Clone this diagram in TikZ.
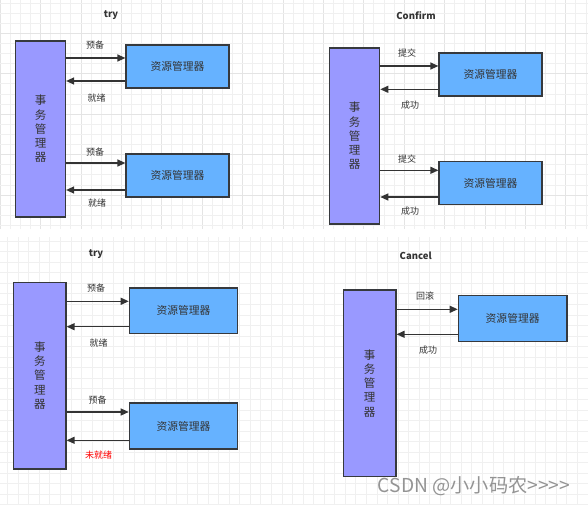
\documentclass[tikz,border=0pt]{standalone}
\usepackage{fontspec}
\setmainfont{Noto Sans CJK SC}
\newfontfamily\cjk{Noto Sans CJK SC}
\usetikzlibrary{arrows.meta}
\definecolor{tmfill}{HTML}{9999FF}
\definecolor{rmfill}{HTML}{66B2FF}
\definecolor{edge}{HTML}{36393D}
\definecolor{txt}{HTML}{333333}
\definecolor{gridminor}{HTML}{F0F0F0}
\definecolor{gridmajor}{HTML}{E4E4E4}
\tikzset{
  tm/.style={draw=edge, line width=1.2pt, fill=tmfill, inner sep=0pt, align=center,
    font=\cjk\fontsize{11.5}{14.2}\selectfont, text=txt},
  rm/.style={draw=edge, line width=1.2pt, fill=rmfill, inner sep=0pt,
    minimum width=103, minimum height=43, font=\cjk\fontsize{10.8}{12}\selectfont, text=txt},
  arr/.style={draw=txt, line width=1.3pt, -{Triangle[length=8pt,width=7pt]}},
  lbl/.style={font=\cjk\fontsize{9}{10}\selectfont, text=txt, inner sep=0pt},
  ttl/.style={font=\cjk\bfseries\fontsize{9.5}{11}\selectfont, text=txt, inner sep=0pt},
}
\begin{document}
\begin{tikzpicture}[x=1pt,y=-1pt]
\useasboundingbox (0,0) rectangle (588,505);
\fill[white] (0,0) rectangle (588,505);
% grids
\begin{scope}
\clip (0,0) rectangle (588,229);
\foreach \i in {0,...,58} {
  \pgfmathsetmacro\xx{\i*10.1}
  \pgfmathtruncatemacro\mm{mod(\i,4)}
  \ifnum\mm=0 \draw[gridmajor,line width=0.6pt] (\xx,0) -- (\xx,229);
  \else \draw[gridminor,line width=0.6pt] (\xx,0) -- (\xx,229); \fi
}
\foreach \i in {0,...,23} {
  \pgfmathsetmacro\yy{\i*10.1+3}
  \pgfmathtruncatemacro\mm{mod(\i+1,4)}
  \ifnum\mm=0 \draw[gridmajor,line width=0.6pt] (0,\yy) -- (588,\yy);
  \else \draw[gridminor,line width=0.6pt] (0,\yy) -- (588,\yy); \fi
}
\end{scope}
\begin{scope}
\clip (0,237) rectangle (588,505);
\foreach \i in {0,...,56} {
  \pgfmathsetmacro\xx{\i*10.55-3}
  \draw[gridminor,line width=0.6pt] (\xx,237) -- (\xx,505);
}
\foreach \i in {0,...,26} {
  \pgfmathsetmacro\yy{237+\i*10.55+4}
  \draw[gridminor,line width=0.6pt] (0,\yy) -- (588,\yy);
}
\end{scope}

% ---------- top-left: try ----------
\node[ttl] (t1) at (111,15) {try};
\node[tm, minimum width=50, minimum height=176] (tmA) at (40.5,129) {事\\务\\管\\理\\器};
\node[rm] (rmA1) at (177.5,66.5) {资源管理器};
\node[rm] (rmA2) at (177.5,175.5) {资源管理器};
\coordinate (yA1) at (0,58);
\coordinate (yA2) at (0,81);
\coordinate (yA3) at (0,163);
\coordinate (yA4) at (0,190);
\draw[arr] (tmA.east |- yA1) -- (rmA1.west |- yA1);
\draw[arr] (rmA1.west |- yA2) -- (tmA.east |- yA2);
\draw[arr] (tmA.east |- yA3) -- (rmA2.west |- yA3);
\draw[arr] (rmA2.west |- yA4) -- (tmA.east |- yA4);
\node[lbl] (lA1) at (95,45.5) {预备};
\node[lbl] (lA2) at (96.5,98) {就绪};
\node[lbl] (lA3) at (95,152) {预备};
\node[lbl] (lA4) at (97,203) {就绪};

% ---------- top-right: Confirm ----------
\node[ttl] (t2) at (416,16) {Confirm};
\node[tm, minimum width=50, minimum height=176] (tmB) at (354.7,136) {事\\务\\管\\理\\器};
\node[rm] (rmB1) at (490.5,74.5) {资源管理器};
\node[rm] (rmB2) at (490.5,183) {资源管理器};
\coordinate (yB1) at (0,66);
\coordinate (yB2) at (0,89.3);
\coordinate (yB3) at (0,170.3);
\coordinate (yB4) at (0,197);
\draw[arr] (tmB.east |- yB1) -- (rmB1.west |- yB1);
\draw[arr] (rmB1.west |- yB2) -- (tmB.east |- yB2);
\draw[arr] (tmB.east |- yB3) -- (rmB2.west |- yB3);
\draw[arr] (rmB2.west |- yB4) -- (tmB.east |- yB4);
\node[lbl] (lB1) at (407,53) {提交};
\node[lbl] (lB2) at (410,104.7) {成功};
\node[lbl] (lB3) at (407,159.3) {提交};
\node[lbl] (lB4) at (410,210.7) {成功};

% ---------- bottom-left: try ----------
\node[ttl] (t3) at (96,254) {try};
\node[tm, minimum width=52.3, minimum height=186.7] (tmC) at (39.85,375.6) {事\\务\\管\\理\\器};
\node[rm, minimum width=108.4, minimum height=45.7] (rmC1) at (183.5,310.8) {资源管理器};
\node[rm, minimum width=108.4, minimum height=46] (rmC2) at (183.5,426) {资源管理器};
\coordinate (yC1) at (0,301.3);
\coordinate (yC2) at (0,326.7);
\coordinate (yC3) at (0,412);
\coordinate (yC4) at (0,440.3);
\draw[arr] (tmC.east |- yC1) -- (rmC1.west |- yC1);
\draw[arr] (rmC1.west |- yC2) -- (tmC.east |- yC2);
\draw[arr] (tmC.east |- yC3) -- (rmC2.west |- yC3);
\draw[arr] (rmC2.west |- yC4) -- (tmC.east |- yC4);
\node[lbl] (lC1) at (96,288.3) {预备};
\node[lbl] (lC2) at (98.7,342.7) {就绪};
\node[lbl] (lC3) at (97.7,400.3) {预备};
\node[lbl, text=red] (lC4) at (98.7,454.7) {未就绪};

% ---------- bottom-right: Cancel ----------
\node[ttl] (t4) at (415.7,256) {Cancel};
\node[tm, minimum width=52.7, minimum height=186.7] (tmD) at (369.65,383.3) {事\\务\\管\\理\\器};
\node[rm, minimum width=108.7, minimum height=45.6] (rmD) at (512.65,318.5) {资源管理器};
\coordinate (yD1) at (0,309.3);
\coordinate (yD2) at (0,334.3);
\draw[arr] (tmD.east |- yD1) -- (rmD.west |- yD1);
\draw[arr] (rmD.west |- yD2) -- (tmD.east |- yD2);
\node[lbl] (lD1) at (425,296) {回滚};
\node[lbl] (lD2) at (428,350) {成功};

% watermark
\node[font=\cjk\fontsize{19.2}{20}\selectfont, text=black!42, inner sep=0pt] (wm) at (474,486) {CSDN @小小码农>>>>};
\end{tikzpicture}
\end{document}
